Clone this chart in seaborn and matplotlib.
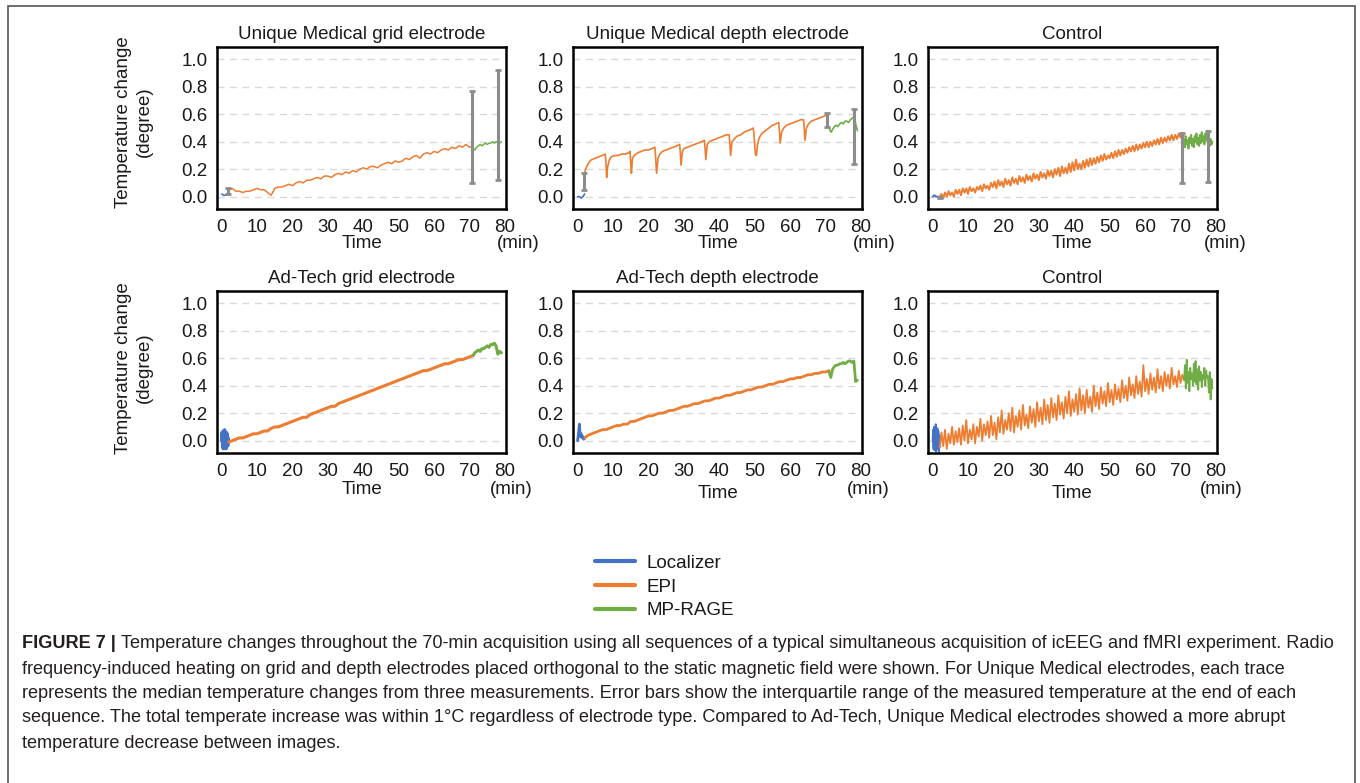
import numpy as np
import pandas as pd
import matplotlib
matplotlib.use('Agg')
import matplotlib.pyplot as plt
import seaborn as sns
from matplotlib.lines import Line2D
from matplotlib.patches import Rectangle
from matplotlib import font_manager

# ---------------- data ----------------
seqs = ['Localizer', 'EPI', 'MP-RAGE']
colors = {'Localizer': '#4472c4', 'EPI': '#ed7d31', 'MP-RAGE': '#70ad47'}
titles = ['Unique Medical grid electrode', 'Unique Medical depth electrode', 'Control',
          'Ad-Tech grid electrode', 'Ad-Tech depth electrode', 'Control']

# Unique Medical grid
ug_loc = [0.02, 0.01, 0.01, 0.02, 0.02]
ug_epi = [0.05, 0.06, 0.04, 0.04, 0.03, 0.04, 0.04, 0.05, 0.06, 0.05, 0.05, 0.03, 0.01, 0.06,
          0.07, 0.07, 0.08, 0.09, 0.08, 0.10, 0.11, 0.10, 0.12, 0.12, 0.13, 0.14, 0.13, 0.15,
          0.15, 0.14, 0.16, 0.17, 0.16, 0.18, 0.17, 0.19, 0.18, 0.20, 0.21, 0.20, 0.22, 0.22,
          0.21, 0.23, 0.24, 0.25, 0.24, 0.26, 0.25, 0.26, 0.28, 0.27, 0.29, 0.30, 0.28, 0.31,
          0.32, 0.31, 0.33, 0.32, 0.34, 0.35, 0.34, 0.36, 0.35, 0.37, 0.36, 0.38, 0.36, 0.37]
ug_mpr = [0.35, 0.34, 0.36, 0.37, 0.38, 0.37, 0.38, 0.39, 0.38, 0.39, 0.39, 0.40, 0.39, 0.40,
          0.40, 0.39, 0.40]
ug_err_t = [1.7, 70.8, 77.9]
ug_err_lo = [0.02, 0.10, 0.12]
ug_err_hi = [0.06, 0.77, 0.92]

# Unique Medical depth
ud_loc = [0.0, 0.0, -0.01, 0.0, 0.02]
ud_epi_t = [2.0, 2.2, 2.6, 3.0, 3.5, 4.0, 5.0, 6.0, 7.0, 7.8, 8.0, 8.2, 8.5, 9.0, 9.5, 10.5,
            11.5, 12.5, 13.5, 14.5, 14.8, 15.0, 15.2, 15.5, 16, 17, 18, 19, 20, 21, 21.8, 22.0,
            22.3, 22.7, 23.2, 24, 25, 26, 27, 28, 28.8, 29.0, 29.2, 29.6, 30, 31, 32, 33, 34,
            35, 35.8, 36.0, 36.2, 36.6, 37.2, 38, 39, 40, 41, 42, 42.8, 43.0, 43.2, 43.6, 44.2,
            45, 46, 47, 48, 49, 49.6, 49.8, 50.2, 50.5, 50.8, 51.3, 52, 53, 54, 55, 56, 56.8,
            57.0, 57.2, 57.6, 58.2, 59, 60, 61, 62, 63, 63.8, 64.0, 64.2, 64.6, 65.2, 66, 67,
            68, 69, 70, 70.5, 70.8]
ud_epi = [0.17, 0.20, 0.22, 0.24, 0.26, 0.27, 0.28, 0.29, 0.30, 0.31, 0.25, 0.14, 0.22, 0.27,
          0.29, 0.30, 0.30, 0.31, 0.31, 0.32, 0.33, 0.24, 0.17, 0.28, 0.30, 0.32, 0.33, 0.34,
          0.34, 0.35, 0.36, 0.30, 0.17, 0.28, 0.31, 0.33, 0.34, 0.35, 0.36, 0.37, 0.38, 0.32,
          0.23, 0.33, 0.35, 0.36, 0.37, 0.38, 0.39, 0.40, 0.41, 0.35, 0.27, 0.38, 0.40, 0.41,
          0.42, 0.43, 0.44, 0.45, 0.45, 0.38, 0.30, 0.40, 0.42, 0.44, 0.45, 0.47, 0.48, 0.49,
          0.50, 0.45, 0.31, 0.30, 0.38, 0.43, 0.46, 0.48, 0.50, 0.52, 0.53, 0.54, 0.47, 0.39,
          0.47, 0.50, 0.52, 0.53, 0.54, 0.55, 0.56, 0.56, 0.49, 0.41, 0.50, 0.53, 0.55, 0.56,
          0.57, 0.58, 0.59, 0.60, 0.59]
ud_mpr_t = [71.0, 71.3, 71.6, 72, 72.5, 73, 73.5, 74, 74.5, 75, 75.5, 76, 76.5, 77, 77.5, 78,
            78.3, 78.6, 79]
ud_mpr = [0.51, 0.48, 0.47, 0.49, 0.51, 0.52, 0.51, 0.53, 0.54, 0.53, 0.55, 0.55, 0.54, 0.56,
          0.57, 0.58, 0.56, 0.52, 0.48]
ud_err_t = [1.9, 70.4, 77.9]
ud_err_lo = [0.05, 0.51, 0.24]
ud_err_hi = [0.17, 0.61, 0.64]

# Control (top)
uc_loc = [0.0, 0.01, 0.0, 0.0, -0.01]
uc_epi = [0.00, 0.02, -0.01, 0.03, 0.00, 0.04, 0.01, 0.03, 0.00, 0.05, 0.02, 0.05, 0.01, 0.06,
          0.03, 0.06, 0.02, 0.07, 0.04, 0.06, 0.03, 0.07, 0.05, 0.08, 0.04, 0.09, 0.06, 0.08,
          0.05, 0.10, 0.07, 0.11, 0.06, 0.12, 0.08, 0.11, 0.07, 0.13, 0.09, 0.12, 0.08, 0.14,
          0.10, 0.13, 0.09, 0.15, 0.11, 0.14, 0.10, 0.16, 0.12, 0.15, 0.11, 0.17, 0.13, 0.16,
          0.12, 0.18, 0.14, 0.17, 0.13, 0.19, 0.15, 0.19, 0.14, 0.20, 0.16, 0.21, 0.15, 0.22,
          0.17, 0.21, 0.17, 0.24, 0.18, 0.25, 0.19, 0.27, 0.20, 0.24, 0.20, 0.26, 0.21, 0.27,
          0.22, 0.28, 0.23, 0.28, 0.24, 0.29, 0.25, 0.30, 0.26, 0.31, 0.27, 0.30, 0.28, 0.32,
          0.28, 0.33, 0.29, 0.34, 0.30, 0.34, 0.31, 0.35, 0.32, 0.36, 0.33, 0.37, 0.33, 0.38,
          0.34, 0.38, 0.35, 0.39, 0.36, 0.40, 0.36, 0.40, 0.37, 0.41, 0.38, 0.42, 0.38, 0.43,
          0.39, 0.43, 0.40, 0.44, 0.41, 0.45, 0.41, 0.45, 0.42, 0.46, 0.43, 0.46, 0.44]
uc_mpr = [0.42, 0.36, 0.44, 0.38, 0.41, 0.35, 0.43, 0.39, 0.45, 0.37, 0.42, 0.36, 0.44, 0.40,
          0.46, 0.38, 0.43, 0.37, 0.45, 0.39, 0.47, 0.40, 0.44, 0.38, 0.46, 0.41, 0.48, 0.39,
          0.43, 0.37, 0.42, 0.38, 0.40]
uc_err_t = [2.0, 70.5, 77.7]
uc_err_lo = [-0.01, 0.10, 0.11]
uc_err_hi = [0.00, 0.46, 0.48]

# Ad-Tech grid
ag_loc = [0.0, 0.06, -0.05, 0.07, -0.06, 0.05, -0.04, 0.08, -0.05, 0.04, -0.06, 0.06, -0.03,
          0.05, -0.04, 0.02, -0.01]
ag_epi = [-0.01, 0.00, 0.01, 0.02, 0.02, 0.03, 0.04, 0.05, 0.05, 0.06, 0.07, 0.07, 0.09, 0.10,
          0.10, 0.11, 0.12, 0.13, 0.14, 0.15, 0.16, 0.17, 0.17, 0.19, 0.20, 0.21, 0.22, 0.23,
          0.24, 0.25, 0.25, 0.27, 0.28, 0.29, 0.30, 0.31, 0.32, 0.33, 0.34, 0.35, 0.36, 0.37,
          0.38, 0.39, 0.40, 0.41, 0.42, 0.43, 0.44, 0.45, 0.46, 0.47, 0.48, 0.49, 0.50, 0.51,
          0.51, 0.52, 0.53, 0.54, 0.55, 0.56, 0.56, 0.57, 0.58, 0.59, 0.59, 0.60, 0.61, 0.62]
ag_mpr = [0.62, 0.64, 0.65, 0.66, 0.65, 0.67, 0.67, 0.68, 0.69, 0.68, 0.70, 0.70, 0.71, 0.69,
          0.63, 0.65, 0.64]

# Ad-Tech depth
ad_loc = [0.0, 0.05, 0.12, 0.03, 0.05, 0.02, 0.03, 0.01, 0.02]
ad_epi = [0.02, 0.04, 0.05, 0.06, 0.07, 0.08, 0.08, 0.09, 0.10, 0.11, 0.11, 0.12, 0.12, 0.14,
          0.14, 0.15, 0.16, 0.17, 0.18, 0.18, 0.19, 0.20, 0.20, 0.21, 0.22, 0.22, 0.23, 0.24,
          0.25, 0.25, 0.26, 0.27, 0.27, 0.28, 0.29, 0.29, 0.30, 0.31, 0.31, 0.32, 0.33, 0.33,
          0.34, 0.35, 0.35, 0.36, 0.37, 0.37, 0.38, 0.39, 0.39, 0.40, 0.41, 0.41, 0.42, 0.43,
          0.43, 0.44, 0.45, 0.45, 0.46, 0.46, 0.47, 0.48, 0.48, 0.49, 0.49, 0.50, 0.50, 0.51]
ad_mpr = [0.50, 0.46, 0.52, 0.54, 0.55, 0.55, 0.56, 0.56, 0.57, 0.56, 0.57, 0.58, 0.58, 0.57,
          0.58, 0.43, 0.44]

# Control (bottom)
ac_loc = [0.0, 0.08, -0.06, 0.10, -0.07, 0.06, -0.04, 0.12, -0.08, 0.05, -0.05, 0.09, -0.06,
          0.07, -0.08, 0.04, -0.05]
ac_epi = [-0.05, 0.06, -0.04, 0.08, -0.06, 0.05, -0.02, 0.10, -0.03, 0.07,
          -0.01, 0.09, -0.03, 0.11, 0.00, 0.15, -0.02, 0.08, 0.01, 0.12,
          -0.02, 0.10, 0.03, 0.16, 0.00, 0.12, 0.04, 0.14, 0.02, 0.18,
          0.04, 0.13, 0.01, 0.17, 0.06, 0.22, 0.05, 0.15, 0.08, 0.20,
          0.07, 0.24, 0.06, 0.18, 0.10, 0.22, 0.08, 0.26, 0.11, 0.19,
          0.09, 0.25, 0.13, 0.23, 0.10, 0.28, 0.14, 0.24, 0.12, 0.30,
          0.15, 0.26, 0.13, 0.31, 0.17, 0.27, 0.15, 0.33, 0.19, 0.28,
          0.16, 0.32, 0.20, 0.36, 0.18, 0.30, 0.21, 0.34, 0.19, 0.38,
          0.22, 0.33, 0.20, 0.37, 0.24, 0.32, 0.21, 0.40, 0.25, 0.35,
          0.23, 0.39, 0.27, 0.36, 0.25, 0.42, 0.28, 0.37, 0.26, 0.41,
          0.30, 0.38, 0.28, 0.44, 0.31, 0.40, 0.29, 0.46, 0.33, 0.41,
          0.31, 0.47, 0.34, 0.43, 0.32, 0.55, 0.36, 0.45, 0.34, 0.49,
          0.37, 0.46, 0.35, 0.52, 0.38, 0.47, 0.36, 0.50, 0.40, 0.48,
          0.38, 0.53, 0.41, 0.47, 0.39, 0.51, 0.42, 0.48, 0.44]
ac_mpr = [0.44, 0.55, 0.38, 0.59, 0.42, 0.50, 0.36, 0.53, 0.45, 0.49, 0.40, 0.56, 0.43, 0.58,
          0.41, 0.52, 0.37, 0.54, 0.44, 0.50, 0.39, 0.48, 0.45, 0.53, 0.40, 0.51, 0.46, 0.47,
          0.35, 0.50, 0.30, 0.45, 0.38]


def segment(vals, t0, t1, name, times=None):
    if times is None:
        times = np.linspace(t0, t1, len(vals))
    return pd.DataFrame({'time': times, 'temp': vals, 'seq': name})


def panel_df(loc, epi, mpr, epi_t=None, mpr_t=None):
    return pd.concat([segment(loc, 0, 2, 'Localizer'),
                      segment(epi, 2, 71, 'EPI', epi_t),
                      segment(mpr, 71, 79, 'MP-RAGE', mpr_t)], ignore_index=True)


panels = [
    panel_df(ug_loc, ug_epi, ug_mpr),
    panel_df(ud_loc, ud_epi, ud_mpr, ud_epi_t, ud_mpr_t),
    panel_df(uc_loc, uc_epi, uc_mpr),
    panel_df(ag_loc, ag_epi, ag_mpr),
    panel_df(ad_loc, ad_epi, ad_mpr),
    panel_df(ac_loc, ac_epi, ac_mpr),
]
errors = [(ug_err_t, ug_err_lo, ug_err_hi), (ud_err_t, ud_err_lo, ud_err_hi),
          (uc_err_t, uc_err_lo, uc_err_hi), None, None, None]
line_w = [1.1, 1.2, 1.4, 2.2, 2.0, 1.3]

# ---------------- figure ----------------
sns.set_theme(style='white')
plt.rcParams['font.family'] = ['Liberation Sans', 'DejaVu Sans']
plt.rcParams['text.color'] = '#1a1a1a'

W, H = 1360, 783
fig = plt.figure(figsize=(W / 100, H / 100), dpi=100)

lefts = [217, 573, 928]
tops = [47, 291]
aw, ah = 289, 162
time_y = [243, 243, 243, 489, 494, 493]
min_xy = [(518, 244), (874, 244), (1225, 244), (511, 489), (868, 490), (1221, 490)]

for i, df in enumerate(panels):
    r, c = divmod(i, 3)
    ax = fig.add_axes([lefts[c] / W, 1 - (tops[r] + ah) / H, aw / W, ah / H])
    sns.lineplot(data=df, x='time', y='temp', hue='seq', hue_order=seqs, palette=colors,
                 estimator=None, sort=False, legend=False, ax=ax, linewidth=line_w[i])
    if errors[i] is not None:
        et, lo, hi = errors[i]
        lo = np.array(lo)
        hi = np.array(hi)
        ax.errorbar(et, lo, yerr=[np.zeros_like(lo), hi - lo], fmt='none', ecolor='#8c8c8c',
                    elinewidth=2.2, capsize=2.5, capthick=2, zorder=4)
    ax.set_xlim(-1.3, 80.3)
    ax.set_ylim(-0.09, 1.09)
    ax.set_xticks(range(0, 81, 10))
    ax.set_yticks([0.0, 0.2, 0.4, 0.6, 0.8, 1.0])
    ax.set_yticklabels(['0.0', '0.2', '0.4', '0.6', '0.8', '1.0'])
    ax.tick_params(length=0, pad=7, labelsize=13.5, colors='#1a1a1a')
    ax.yaxis.grid(True, color='#d9d9d9', linestyle=(0, (5, 4)), linewidth=1)
    ax.xaxis.grid(False)
    for s in ax.spines.values():
        s.set_color('black')
        s.set_linewidth(1.8)
    ax.set_xlabel('')
    ax.set_ylabel('')
    ax.set_title(titles[i], fontsize=13.5, pad=6)
    cx = lefts[c] + aw / 2
    fig.text(cx / W, 1 - time_y[i] / H, 'Time', ha='center', va='center', fontsize=13.5)
    mx, my = min_xy[i]
    fig.text(mx / W, 1 - my / H, '(min)', ha='center', va='center', fontsize=13.5)

for yc in [122, 368]:
    fig.text(134 / W, 1 - yc / H, 'Temperature change\n(degree)', rotation=90, ha='center',
             va='center', fontsize=13.5, linespacing=1.35)

handles = [Line2D([], [], color=colors[s], lw=3) for s in seqs]
fig.legend(handles, seqs, loc='center left', bbox_to_anchor=(595 / W, 1 - 587 / H),
           frameon=False, fontsize=13.5, handlelength=2.15, labelspacing=0.35,
           handletextpad=0.6, borderaxespad=0, borderpad=0)

# ---------------- caption ----------------
names = {f.name for f in font_manager.fontManager.ttflist}
cap_font = ['Liberation Sans Narrow'] if 'Liberation Sans Narrow' in names else ['Liberation Sans']
cap_lines = [
    'Temperature changes throughout the 70-min acquisition using all sequences of a typical '
    'simultaneous acquisition of icEEG and fMRI experiment. Radio',
    'frequency-induced heating on grid and depth electrodes placed orthogonal to the static '
    'magnetic field were shown. For Unique Medical electrodes, each trace',
    'represents the median temperature changes from three measurements. Error bars show the '
    'interquartile range of the measured temperature at the end of each',
    'sequence. The total temperate increase was within 1°C regardless of electrode type. '
    'Compared to Ad-Tech, Unique Medical electrodes showed a more abrupt',
    'temperature decrease between images.',
]
cap_y = [644, 669, 694, 718, 743]
cap_col = '#231f20'

renderer = fig.canvas.get_renderer()
probe = fig.text(0, 0, cap_lines[1], fontsize=12, family=cap_font)
pw = probe.get_window_extent(renderer).width
probe.remove()
fs = 12 * (1296 - 22) / pw

bold = fig.text(22 / W, 1 - cap_y[0] / H, 'FIGURE 7 | ', fontsize=fs, family=cap_font,
                weight='bold', va='center', color=cap_col)
bw = bold.get_window_extent(renderer).width
for k, (line, yy) in enumerate(zip(cap_lines, cap_y)):
    x0 = 22 + (bw if k == 0 else 0)
    fig.text(x0 / W, 1 - yy / H, line, fontsize=fs, family=cap_font, va='center', color=cap_col)

# outer frame
fig.add_artist(Rectangle((8 / W, -0.05), (1355 - 8) / W, 1 - 6 / H + 0.05,
                         transform=fig.transFigure, fill=False, edgecolor='#555555',
                         linewidth=1.2, clip_on=False))

fig.savefig('out.png', dpi=100)
